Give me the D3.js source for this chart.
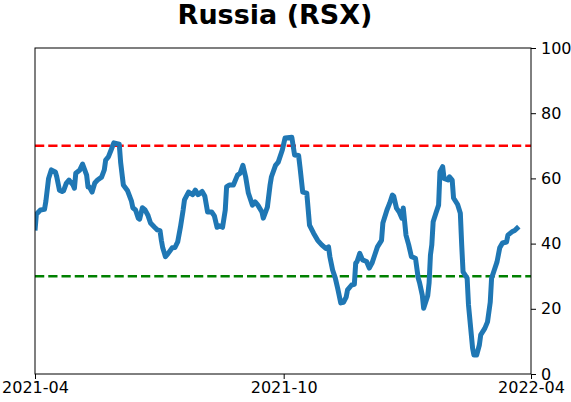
<!DOCTYPE html>
<html>
<head>
<meta charset="utf-8">
<script src="https://cdn.jsdelivr.net/npm/d3@7"></script>
<style>
body { margin: 0; background: #fff; }
text { font-family: "DejaVu Sans", sans-serif; }
</style>
</head>
<body>
<div id="chart"></div>
<script>
var dates = [
"2021-04-01","2021-04-02","2021-04-05","2021-04-08","2021-04-09","2021-04-11","2021-04-13","2021-04-16","2021-04-17","2021-04-19",
"2021-04-21","2021-04-22","2021-04-24","2021-04-26","2021-04-29","2021-04-30","2021-05-01","2021-05-04","2021-05-06","2021-05-09",
"2021-05-10","2021-05-11","2021-05-13","2021-05-15","2021-05-17","2021-05-20","2021-05-22","2021-05-23","2021-05-25","2021-05-27",
"2021-05-29","2021-06-02","2021-06-03","2021-06-05","2021-06-08","2021-06-11","2021-06-12","2021-06-14","2021-06-16","2021-06-17",
"2021-06-19","2021-06-21","2021-06-23","2021-06-25","2021-06-28","2021-06-30","2021-07-02","2021-07-03","2021-07-04","2021-07-06",
"2021-07-08","2021-07-11","2021-07-13","2021-07-15","2021-07-17","2021-07-19","2021-07-20","2021-07-23","2021-07-26","2021-07-28",
"2021-07-30","2021-08-02","2021-08-04","2021-08-06","2021-08-09","2021-08-11","2021-08-13","2021-08-14","2021-08-17","2021-08-19",
"2021-08-20","2021-08-22","2021-08-25","2021-08-28","2021-08-30","2021-09-01","2021-09-03","2021-09-05","2021-09-08","2021-09-10",
"2021-09-12","2021-09-15","2021-09-16","2021-09-19","2021-09-21","2021-09-22","2021-09-25","2021-09-27","2021-09-30","2021-10-02",
"2021-10-07","2021-10-09","2021-10-12","2021-10-13","2021-10-15","2021-10-18","2021-10-20","2021-10-23","2021-10-26","2021-10-29",
"2021-11-01","2021-11-03","2021-11-04","2021-11-06","2021-11-08","2021-11-10","2021-11-12","2021-11-14","2021-11-16","2021-11-17",
"2021-11-20","2021-11-22","2021-11-23","2021-11-24","2021-11-26","2021-11-28","2021-12-01","2021-12-03","2021-12-05","2021-12-07",
"2021-12-09","2021-12-12","2021-12-13","2021-12-16","2021-12-18","2021-12-20","2021-12-21","2021-12-23","2021-12-25","2021-12-27",
"2021-12-28","2021-12-30","2022-01-01","2022-01-03","2022-01-06","2022-01-08","2022-01-09","2022-01-11","2022-01-12","2022-01-15",
"2022-01-16","2022-01-17","2022-01-18","2022-01-19","2022-01-21","2022-01-23","2022-01-24","2022-01-26","2022-01-27","2022-01-30",
"2022-01-31","2022-02-02","2022-02-03","2022-02-06","2022-02-08","2022-02-09","2022-02-10","2022-02-13","2022-02-14","2022-02-17",
"2022-02-18","2022-02-20","2022-02-22","2022-02-23","2022-02-26","2022-02-28","2022-03-02","2022-03-03","2022-03-05","2022-03-07",
"2022-03-09","2022-03-11","2022-03-14","2022-03-15","2022-03-18","2022-03-20","2022-03-23"
];
var values = [
44,49,50.3,50.5,53,60,62.6,62,60.5,56.4,
56,56.2,58.5,59.5,58,57,61.6,62.6,64.4,61,
57.4,57.4,55.8,58.6,59.5,60.4,62.6,65.6,66.6,68.7,
70.9,70.5,65,58,56.3,53,51,50.3,47.8,47.5,
51,50.3,48.8,46.3,45,44.2,44,41,38.7,36,
37,38.7,38.8,40.5,45,50.3,53.4,55.8,55,56.4,
55,56,54.5,49.7,49.7,48.5,45,45.5,45,50.3,
57.4,58,58,61,61.6,64,60.5,55.5,51.8,52.8,
51.8,49.7,47.8,51.2,58,60.5,64,65,68.7,72.4,
72.6,67.2,67,63.5,55.8,55.5,45.7,43.2,41,39.6,
38.5,39,36,31.9,29.4,25.8,21.8,22,23.6,25.8,
27.3,27.5,34,34.5,37,35,34.5,32.5,34,36.5,
39,41,46.3,50.3,52.4,54.9,54.5,50.9,49.7,47.8,
50.9,42.6,39.6,36,35.5,29.4,28,24.2,20.2,24,
27.9,36.5,39.6,46.7,49.3,51.8,62,63.6,60,59.5,
60.5,59.5,54,52,49.3,39.6,31.3,29.4,21.2,8,
5.8,5.8,8.9,12,14,16,22,29.4,31.9,34.4,
38.7,40.2,40.5,42.6,43.6,44,45.2
];
var xTicks = ["2021-04-01", "2021-10-01", "2022-04-01"];
var yTicks = [0, 20, 40, 60, 80, 100];
var upperLine = 70;
var lowerLine = 30;
var title = "Russia (RSX)";

var width = 571;
var height = 402;
var plot = {left: 35, right: 531, top: 48, bottom: 374};

var parseDate = d3.timeParse("%Y-%m-%d");
var data = dates.map(function(d, i){
    return {date: parseDate(d), value: values[i]};
});

var svg = d3.select("#chart")
.append("svg")
.attr("width", width)
.attr("height", height);

var x_scale = d3.scaleTime()
.domain([parseDate(xTicks[0]), parseDate(xTicks[2])])
.range([plot.left, plot.right]);
var y_scale = d3.scaleLinear()
.domain([0, 100])
.range([plot.bottom, plot.top]);

svg.append("clipPath")
.attr("id", "plotclip")
.append("rect")
.attr("x", plot.left)
.attr("y", plot.top)
.attr("width", plot.right - plot.left)
.attr("height", plot.bottom - plot.top);

// threshold lines
svg.append("line")
.attr("x1", plot.left).attr("x2", plot.right)
.attr("y1", y_scale(upperLine)).attr("y2", y_scale(upperLine))
.attr("stroke", "#ff0000")
.attr("stroke-width", 2.5)
.attr("stroke-dasharray", "9.25,4");

svg.append("line")
.attr("x1", plot.left).attr("x2", plot.right)
.attr("y1", y_scale(lowerLine)).attr("y2", y_scale(lowerLine))
.attr("stroke", "#008000")
.attr("stroke-width", 2.5)
.attr("stroke-dasharray", "9.25,4");

var line = d3.line()
.x(function(d){ return x_scale(d.date); })
.y(function(d){ return y_scale(d.value); });

svg.append("path")
.datum(data)
.attr("clip-path", "url(#plotclip)")
.attr("d", line)
.attr("fill", "none")
.attr("stroke", "#1f77b4")
.attr("stroke-width", 5)
.attr("stroke-linejoin", "round");

// frame
svg.append("rect")
.attr("x", plot.left)
.attr("y", plot.top)
.attr("width", plot.right - plot.left)
.attr("height", plot.bottom - plot.top)
.attr("fill", "none")
.attr("stroke", "#000")
.attr("stroke-width", 1);

var xAxis = d3.axisBottom(x_scale)
.tickValues(xTicks.map(parseDate))
.tickFormat(d3.timeFormat("%Y-%m"))
.tickSize(5)
.tickPadding(3);

var yAxis = d3.axisRight(y_scale)
.tickValues(yTicks)
.tickSize(5)
.tickPadding(5);

var gx = svg.append("g")
.attr("transform", "translate(0," + plot.bottom + ")")
.call(xAxis);
var gy = svg.append("g")
.attr("transform", "translate(" + plot.right + ",0)")
.call(yAxis);

[gx, gy].forEach(function(g){
    g.select(".domain").remove();
    g.selectAll("line").attr("stroke", "#000");
    g.selectAll("text")
    .attr("fill", "#000")
    .style("font-family", "DejaVu Sans")
    .style("font-size", "16px");
});

svg.append("text")
.attr("x", 275)
.attr("y", 24)
.attr("text-anchor", "middle")
.style("font-family", "DejaVu Sans")
.style("font-weight", "bold")
.style("font-size", "27px")
.text(title);
</script>
</body>
</html>
